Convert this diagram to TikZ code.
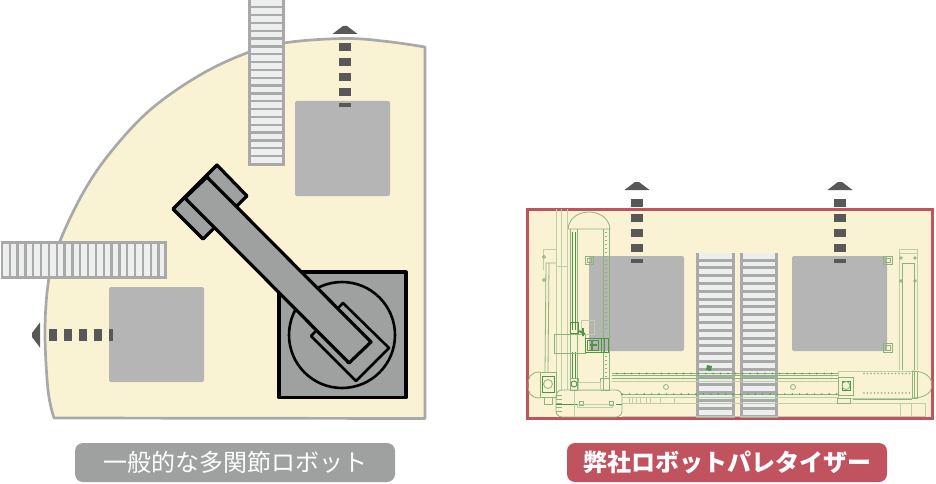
\documentclass[tikz,border=0pt]{standalone}
\usepackage{fontspec}
\setmainfont{Noto Sans CJK JP}
\usepackage{tikz}
\definecolor{fanyellow}{HTML}{FAF3D3}
\definecolor{fanedge}{HTML}{A9A9A9}
\definecolor{palletgrey}{HTML}{B4B5B4}
\definecolor{robotgrey}{HTML}{9FA0A0}
\definecolor{arrowgrey}{HTML}{595757}
\definecolor{slatlight}{HTML}{EDEFEE}
\definecolor{paneledge}{HTML}{C1535F}
\definecolor{cadgreen}{HTML}{8DB27E}
\definecolor{cadpale}{HTML}{BCCFA8}
\definecolor{caddark}{HTML}{4F9347}
\tikzset {
        pallet/.style={fill=palletgrey, draw=none, rounded corners=2pt, minimum width=95pt, minimum height=95pt, inner sep=0pt},
        caption/.style={align=center, rounded corners=8pt, minimum width=320pt, minimum height=39pt, inner sep=0pt, white, font=\fontsize{24}{24}\selectfont},
        robotpart/.style={draw=black, fill=robotgrey, line width=3.2pt, line join=round},
        rail/.style={fanedge, line width=3pt},
        slat/.style={fanedge, line width=2.3pt},
        cadline/.style={cadgreen, line width=0.8pt},
        cadthin/.style={cadpale, line width=0.8pt},
        caddeep/.style={caddark, line width=0.9pt}
}
\newcommand{\uparrowdash}[2]{
    \fill[arrowgrey] (#1-2,#2) -- (#1+2,#2) -- (#1+12.5,#2+8) -- (#1-12.5,#2+8) -- cycle;
    \foreach \i in {0,1,2,3} {
        \fill[arrowgrey] (#1-6,#2+17+15*\i) rectangle (#1+6,#2+25+15*\i);
    }
    \fill[arrowgrey] (#1-6,#2+77) rectangle (#1+6,#2+81);
}
\begin{document}
\begin{tikzpicture}[x=1pt,y=-1pt]
    \useasboundingbox (0,0) rectangle (936,484);

    \draw[fill=fanyellow, draw=fanedge, line width=2.7pt, line join=round]
        plot[smooth, tension=0.6] coordinates {(425,47) (387,41.5) (345,38.5) (287,42.5) (248,52.5) (200,75) (150,110) (110,153) (83,193) (60,241) (49,278) (45,330) (48,390) (54,418)}
        -- (425,418.5) -- cycle;

    \fill[slatlight] (248,0) rectangle (284,165);
    \foreach \i in {0,...,20} {
        \draw[slat] (248,7.3+7.83*\i) -- (284,7.3+7.83*\i);
    }
    \draw[rail] (249.5,0) -- (249.5,164) -- (283,164) -- (283,0);

    \fill[slatlight] (1,241) rectangle (167,278);
    \foreach \i in {0,...,20} {
        \draw[slat] (158.5-7.83*\i,241) -- (158.5-7.83*\i,278);
    }
    \draw[rail] (1,242.5) -- (165.5,242.5) -- (165.5,277.5) -- (1,277.5);

    \node[pallet] (PalletTop) at (342.5,148.5) {};
    \node[pallet] (PalletLeft) at (156.5,334.5) {};
    \uparrowdash{345}{26}

    \fill[arrowgrey] (32,333) -- (32,337) -- (40,347.5) -- (40,322.5) -- cycle;
    \foreach \i in {0,1,2,3} {
        \fill[arrowgrey] (49+15*\i,329) rectangle (57+15*\i,341);
    }
    \fill[arrowgrey] (109,329) rectangle (113,341);

    \draw[robotpart] (279,272) rectangle (406,397.5);
    \draw[black, line width=2.6pt] (342,335) circle (53);
    \draw[robotpart, line width=2.6pt] (343,303) -- (389,348) -- (356,381) -- (311,336) -- cycle;
    \draw[robotpart] (217,165) -- (247,196) -- (203,239) -- (173,209) -- cycle;
    \draw[robotpart] (207,177) -- (371,342) -- (349,363) -- (185,198) -- cycle;

    \draw[fill=fanyellow, draw=paneledge, line width=3pt] (527,209) rectangle (932.5,418);

    \node[pallet] (PalletOne) at (636.5,303.5) {};
    \node[pallet] (PalletTwo) at (839.5,303.5) {};

    \foreach \xa/\xb in {696/735,740/778} {
        \fill[slatlight] (\xa,253) rectangle (\xb,417);
        \foreach \i in {0,...,20} {
            \draw[fanedge, line width=3pt] (\xa,260+7.8*\i) -- (\xb,260+7.8*\i);
        }
        \draw[fanedge, line width=3pt] (\xa+1.5,253) -- (\xa+1.5,418);
        \draw[fanedge, line width=3pt] (\xb-1.5,253) -- (\xb-1.5,418);
    }

    \uparrowdash{637}{182}
    \uparrowdash{840}{182}

    % tower
    \draw[cadline] (568,229) .. controls (569,217) and (580,212) .. (589,212) .. controls (598,212) and (609,217) .. (610,229) -- cycle;
    \draw[cadline] (570,229) -- (570,390) (577,229) -- (577,390) (603,229) -- (603,390) (609,229) -- (609,390);
    \draw[caddeep] (572,232) -- (572,330) (575,232) -- (575,330) (572,352) -- (572,378) (575,352) -- (575,378);
    \draw[cadline, dash pattern=on 1pt off 3pt, line width=1.2pt] (606,232) -- (606,330) (606,352) -- (606,378);
    \draw[cadthin] (556,209) -- (556,390) (561,209) -- (561,390) (567,209) -- (567,390) (556,266) -- (567,266);
    \draw[cadthin] (543,249) -- (556,249) -- (556,260) (543,249) -- (543,270);
    \draw[cadline] (556,263) -- (546,263) -- (545,372) (549,263) -- (548,372);
    \draw[cadline] (544,257) circle (1.5) (544,280) circle (1.5);
    \draw[cadline] (554,334) rectangle (585,353);
    \draw[cadthin] (581,320) rectangle (594,334);
    \draw[caddeep] (585,338) rectangle (608,352) (587,340) rectangle (598,350) (601,338) rectangle (604,352) (570,322) rectangle (578,333);
    \draw[caddark, line width=1.8pt] (579,331) -- (585,334) (583,328) -- (583,336) (590,345) -- (597,345) (592,340) -- (592,350);
    \draw[cadline] (585,256) rectangle (593,264) (587,258) rectangle (591,262);

    % base block on the left
    \draw[cadline] (540,372) .. controls (530,372) and (528,378) .. (528,385) .. controls (528,392) and (530,398) .. (540,398);
    \draw[cadline] (540,372) rectangle (556,397);
    \draw[caddeep] (542,376) rectangle (554,392);
    \draw[cadline] (548,384) circle (4.5);
    \draw[cadline] (544,397) rectangle (552,404);
    \draw[cadline, rounded corners=6pt] (556,390) rectangle (622,417);
    \draw[caddeep] (556,404) -- (579,404) (590,404) -- (609,404) (616,404) -- (622,404);
    \draw[cadline] (579,401) rectangle (583,405) (609,401) rectangle (613,405);
    \draw[cadthin] (577,404) rectangle (612,407) (574,390) -- (574,417);
    \foreach \i in {0,1,2,3,4} {
        \draw[cadline] (556,395+4*\i) -- (562,395+4*\i);
    }
    \draw[cadline] (570,378) rectangle (578,390) (600,378) rectangle (609,390);
    \draw[caddeep] (574,384) circle (3);
    \draw[cadthin] (578,382) rectangle (600,390);

    % rails
    \draw[cadline] (612,373) -- (838,373) (612,375) -- (838,375) (612,378) -- (838,378);
    \draw[cadthin] (612,381) -- (838,381);
    \draw[cadline] (622,394) -- (838,394);
    \draw[cadthin] (622,397) -- (838,397) (622,403) -- (925,403) (622,416) -- (925,416);
    \foreach \i in {0,...,29} {
        \fill[caddark] (617+7.4*\i,373.5) circle (0.9);
        \fill[caddark] (622+7.4*\i,394) circle (0.8);
    }
    \foreach \i in {0,...,14} {
        \fill[cadgreen] (624+14.8*\i,378.5) circle (0.8);
    }
    \draw[cadline] (666,387) circle (2.5) (793,387) circle (2.5);
    \fill[caddark] (707,365) -- (712,366) -- (711,371) -- (706,370) -- cycle;
    \draw[cadthin] (629,397) rectangle (632,403) (636,397) rectangle (640,403) (646,397) rectangle (650,403) (660,397) rectangle (674,403);

    % right side
    \draw[cadthin] (838,371) rectangle (912,398);
    \draw[cadline] (838,377) rectangle (853,395);
    \draw[caddeep] (842,381) rectangle (850,390);
    \draw[cadline] (846,385.5) circle (4);
    \foreach \i in {0,...,13} {
        \fill[cadgreen] (864+3.5*\i,373.5) circle (0.8);
        \fill[cadgreen] (864+3.5*\i,393) circle (0.8);
    }
    \draw[cadline] (912,371) .. controls (926,371) and (932,378) .. (932,385) .. controls (932,392) and (926,398) .. (912,398);
    \draw[cadline] (912,371) rectangle (917,398) (914.5,371) -- (914.5,398);
    \draw[cadline] (853,399) -- (912,399);
    \draw[cadthin] (899,370) -- (899,249) -- (917,249) -- (917,370) (899,253) -- (917,253);
    \draw[cadline] (902,370) -- (902,263) -- (914,263) -- (914,370);
    \draw[cadline] (901,258) circle (1.3) (915,258) circle (1.3) (901,281) circle (1.3) (915,281) circle (1.3);
    \draw[cadline] (883,256) rectangle (892,264) (885,258) rectangle (890,262);
    \draw[cadline] (883,343) rectangle (892,352) (885,345) rectangle (890,350);
    \draw[cadthin] (900,403) -- (900,417) (911,403) rectangle (925,416);
    \draw[cadline] (837,398) rectangle (850,403);

    \node[caption, fill=robotgrey] (CaptionRobot) at (235,462.5) {一般的な多関節ロボット};
    \node[caption, fill=paneledge, font=\fontsize{24}{24}\selectfont\bfseries] (CaptionPalletizer) at (727,462.5) {弊社ロボットパレタイザー};
\end{tikzpicture}
\end{document}
